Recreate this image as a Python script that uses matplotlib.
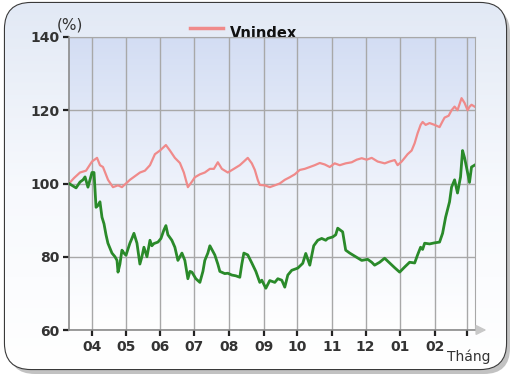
import numpy as np
import pandas as pd
import matplotlib
matplotlib.use("Agg")
import matplotlib.pyplot as plt
from matplotlib.patches import FancyBboxPatch
from matplotlib.colors import LinearSegmentedColormap

# ---------------- data ----------------
start = pd.Timestamp("2009-04-01")
month_ticks = pd.date_range("2009-04-01", periods=12, freq="MS")
month_labels = ["04", "05", "06", "07", "08", "09", "10", "11", "12", "01", "02", ""]

# Vnindex (%), x = days since start
vn_days = [-20.5, -16, -10.7, -5.3, 0, 4.5, 7.1, 9.8, 14.3, 18.7, 23.2, 26.7, 30.3, 33.8, 38.3,
           42.8, 47.2, 51.7, 56.1, 60.6, 65.9, 69.5, 73.9, 78.4, 81.9, 85.5, 89.1, 91.7, 96.2,
           100.6, 105.1, 108.7, 112.2, 115.8, 121.1, 126.5, 131.8, 135.4, 138.9, 142.5, 145.2,
           147.8, 149.6, 154.1, 158.5, 163.0, 167.4, 171.9, 176.3, 180.8, 185.2, 189.7, 194.2,
           198.6, 203.1, 207.5, 212.0, 216.4, 220.9, 226.2, 231.6, 236.0, 240.5, 244.9, 249.4,
           254.7, 261.0, 265.4, 269.9, 272.5, 276.1, 278.8, 281.4, 285.0, 287.7, 290.3, 293.0,
           294.8, 297.5, 301.0, 305.5, 309.9, 312.6, 314.4, 318.0, 320.6, 323.3, 325.9, 329.5,
           332.2, 334.9, 336.7, 338.4, 341.1]
vn_vals = [100, 101.5, 103, 103.5, 106, 107, 105, 104.5, 101, 99, 99.5, 99, 100, 101, 102,
           103, 103.5, 105, 108, 109, 110.5, 109, 107, 105.6, 103, 99, 100.5, 101.7, 102.5,
           103, 104, 104, 105.8, 104, 103, 104, 105, 106, 107, 105.5, 103.7,
           101, 99.6, 99.5, 99, 99.5, 100, 101, 101.7, 102.5, 103.7, 104, 104.5,
           105, 105.6, 105.2, 104.5, 105.5, 105, 105.5, 105.8, 106.5, 106.9, 106.5, 107,
           106, 105.5, 106, 106.4, 105, 106, 107, 108, 109, 111, 113.7, 116,
           116.8, 116, 116.5, 116, 115.4, 117, 118, 118.5, 120, 121, 120, 123.3,
           122, 120, 121, 121.5, 121]

# Stock (%), x = days since start
st_days = [-20.5, -17.8, -14.2, -10.7, -8.0, -6.2, -3.6, -1.8, 0, 1.8, 3.6, 5.3, 7.1, 8.9, 10.7,
           12.5, 14.2, 17.8, 20.5, 22.3, 23.2, 24.9, 26.7, 28.5, 30.3, 33.8, 35.6, 37.4, 40.1,
           42.7, 44.5, 46.3, 49.0, 51.7, 53.4, 55.2, 58.8, 61.5, 64.1, 65.9, 67.7, 71.2, 73.9,
           76.6, 80.2, 82.8, 85.5, 87.3, 89.1, 92.6, 96.2, 98.9, 100.6, 103.3, 105.1, 107.8,
           109.5, 112.2, 114.0, 118.4, 121.1, 124.7, 128.2, 131.8, 133.6, 135.4, 138.9, 142.5,
           146.1, 149.6, 151.4, 155.0, 158.5, 163.0, 165.7, 169.2, 171.9, 174.6, 178.1, 183.5,
           187.9, 190.6, 194.2, 197.7, 201.3, 204.8, 208.4, 210.2, 214.6, 217.3, 219.1, 223.5,
           226.2, 229.8, 235.1, 237.8, 240.5, 245.8, 249.4, 252.0, 256.5, 260.9, 265.4, 269.9,
           274.3, 278.8, 283.2, 287.7, 290.3, 293.0, 294.8, 296.6, 301.0, 305.5, 309.9, 312.6,
           315.3, 317.1, 318.8, 320.6, 323.3, 325.9, 328.6, 330.4, 332.2, 333.9, 336.6, 338.4,
           341.1]
st_vals = [100, 99.5, 98.8, 100.4, 101, 101.8, 99, 101, 103, 103, 93.5, 94, 95, 90.8, 89,
           86, 83.7, 81, 80, 79, 75.8, 78, 81.8, 81, 80.4, 83.7, 85, 86.4, 83.7,
           78, 80, 82.6, 80, 84.5, 83, 83.6, 84, 85, 87.3, 88.5, 86, 84.5, 82.6,
           79, 81, 79, 74, 76, 75.8, 74, 73, 76, 79, 81, 83, 81.5,
           80.5, 78, 76, 75.4, 75.5, 75, 74.8, 74.4, 78, 81, 80.5, 78.3,
           76, 73, 73.6, 71.4, 73.5, 73, 74, 73.6, 71.7, 75, 76.3, 76.9,
           78.2, 80.9, 77.7, 83, 84.5, 85, 84.5, 85, 85.4, 86, 87.8, 86.8,
           81.8, 81, 80, 79.5, 79, 79.3, 78.5, 77.7, 78.5, 79.6, 78.3, 77,
           75.8, 77.2, 78.5, 78.3, 80.5, 82.6, 82, 83.7, 83.5, 83.8, 84, 86.4,
           90.8, 93, 95, 99, 101, 97.4, 101.8, 109, 107, 104.5, 100.3, 104.5,
           105]

y_ticks = [60, 80, 100, 120, 140]

# ---------------- figure ----------------
W, H = 517, 381
fig = plt.figure(figsize=(W / 100, H / 100), dpi=100)
fig.patch.set_facecolor("white")

# background frame axes in pixel coords
bg = fig.add_axes([0, 0, 1, 1])
bg.set_xlim(0, W)
bg.set_ylim(H, 0)
bg.axis("off")
shadow = FancyBboxPatch((9, 7), 501, 367, boxstyle="round,pad=0,rounding_size=26",
                        facecolor="#9a9a9a", edgecolor="none", alpha=0.6, zorder=0)
bg.add_patch(shadow)
frame = FancyBboxPatch((5, 3), 501, 366, boxstyle="round,pad=0,rounding_size=26",
                       facecolor="#f4f7fc", edgecolor="#3a3a3a", linewidth=1.6, zorder=1)
bg.add_patch(frame)
grad = np.linspace(0, 1, 256).reshape(-1, 1)
cm_frame = LinearSegmentedColormap.from_list("f", ["#e2e9f5", "#f7f9fd", "#ffffff"])
im = bg.imshow(grad, cmap=cm_frame, extent=[5, 506, 369, 3], aspect="auto", zorder=1.5)
im.set_clip_path(frame)

# main axes
ax = fig.add_axes([69 / W, 1 - 330 / H, (475 - 69) / W, (330 - 37) / H])
ax.set_facecolor("none")
cm_plot = LinearSegmentedColormap.from_list("p", ["#d3ddf3", "#eef2fb", "#ffffff"])
ax.imshow(np.linspace(0, 1, 256).reshape(-1, 1), cmap=cm_plot, origin="upper",
          extent=[-20.5, 341.5, 60, 140], aspect="auto", zorder=0)

tick_days = [(d - start).days for d in month_ticks]
ax.set_xlim(-20.5, 341.5)
ax.set_ylim(60, 140)
ax.set_xticks(tick_days)
ax.set_xticklabels(month_labels)
ax.set_yticks(y_ticks)
ax.grid(True, color="#a8a8a8", linewidth=1.0, zorder=1)
for s in ["top", "right"]:
    ax.spines[s].set_color("#a8a8a8")
for s in ["left", "bottom"]:
    ax.spines[s].set_color("#8a8a8a")
    ax.spines[s].set_linewidth(1.2)
ax.tick_params(axis="both", colors="#222222", length=4, width=1.6, direction="out",
               labelsize=10, pad=3)
for lab in ax.get_xticklabels() + ax.get_yticklabels():
    lab.set_fontweight("bold")
    lab.set_color("#333333")

ax.plot(vn_days, vn_vals, color="#f08a8a", linewidth=1.6, zorder=3)
ax.plot(st_days, st_vals, color="#2a8a2a", linewidth=2.0, zorder=4)

# axis arrow
ax.annotate("", xy=(1.035, 0), xytext=(1.0, 0), xycoords="axes fraction",
            arrowprops=dict(arrowstyle="-|>,head_length=0.6,head_width=0.3",
                            color="#c8c8c8", lw=1.2), annotation_clip=False)

# texts
bg.text(70, 25, "(%)", ha="center", va="center", fontsize=11, color="#333333", zorder=5)
bg.text(469, 357, "Tháng", ha="center", va="center", fontsize=10, color="#333333", zorder=5)
bg.plot([190, 223], [28, 28], color="#f08a8a", linewidth=2.5, zorder=5)
bg.text(230, 33, "Vnindex", ha="left", va="center", fontsize=10.5, fontweight="bold",
        color="#111111", zorder=5)

fig.savefig("out.png", dpi=100)
